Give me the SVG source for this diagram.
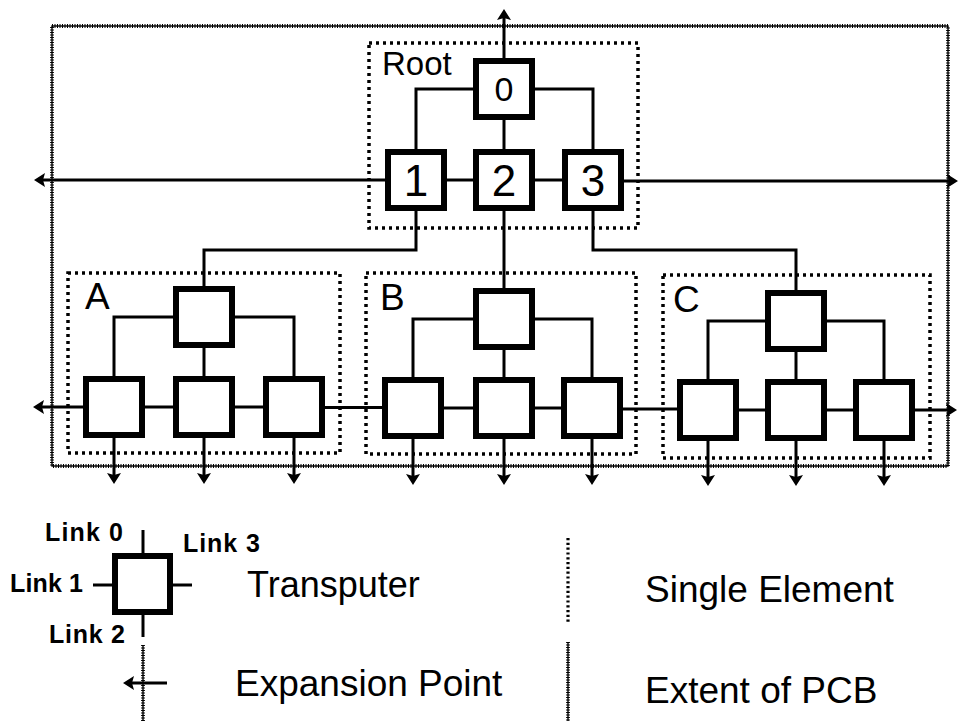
<svg xmlns="http://www.w3.org/2000/svg" width="960" height="721" viewBox="0 0 960 721">
<style>
.t{fill:#fff;stroke:#000;stroke-width:6}
.c{fill:none;stroke:#000;stroke-width:3}
.el{fill:none;stroke:#000;stroke-width:3.5;stroke-dasharray:3 4}
.pcb{fill:none;stroke:#000;stroke-width:1.4}
.pcbz{fill:none;stroke:#000;stroke-width:3.8;stroke-dasharray:1 1.5}
.lbl{font-family:"Liberation Sans",Arial,sans-serif;fill:#000}
.num{font-family:"Liberation Sans",Arial,sans-serif;fill:#000;text-anchor:middle}
.lk{font-family:"Liberation Sans",Arial,sans-serif;font-weight:bold;font-size:25px;fill:#000}
</style>
<defs>
<marker id="ah" viewBox="0 0 11 14" refX="5" refY="7" markerWidth="11" markerHeight="14" markerUnits="userSpaceOnUse" orient="auto">
<path d="M0,0 L11,7 L0,14 L2,7 Z" fill="#000"/>
</marker>
</defs>
<rect width="960" height="721" fill="#fff"/>

<g id="pcb">
<rect class="pcb" x="52" y="26" width="896" height="440"/>
<rect class="pcbz" x="52" y="26" width="896" height="440"/>
</g>

<g id="element-root">
<rect class="el" x="369" y="43" width="269" height="185"/>
<text class="lbl" x="382" y="75" font-size="33">Root</text>
</g>
<g id="element-A">
<rect class="el" x="68" y="273" width="272" height="180"/>
<text class="lbl" x="85" y="309" font-size="37">A</text>
</g>
<g id="element-B">
<rect class="el" x="366" y="273" width="270" height="181"/>
<text class="lbl" x="380" y="310" font-size="37">B</text>
</g>
<g id="element-C">
<rect class="el" x="663" y="275" width="267" height="183"/>
<text class="lbl" x="673" y="312" font-size="37">C</text>
</g>

<g id="connectors">
<polyline class="c" points="477,89 416,89 416,152"/>
<polyline class="c" points="532,89 593,89 593,152"/>
<line class="c" x1="504" y1="117" x2="504" y2="152"/>
<line class="c" x1="444" y1="180" x2="476" y2="180"/>
<line class="c" x1="532" y1="180" x2="565" y2="180"/>
<line class="c" x1="504" y1="58" x2="504" y2="15" marker-end="url(#ah)"/>
<line class="c" x1="388" y1="180" x2="40" y2="180" marker-end="url(#ah)"/>
<line class="c" x1="621" y1="181" x2="952" y2="181" marker-end="url(#ah)"/>
<polyline class="c" points="416,208 416,250 204,250 204,289"/>
<line class="c" x1="504" y1="208" x2="504" y2="291"/>
<polyline class="c" points="593,208 593,250 796,250 796,293"/>
<polyline class="c" points="176,317 114,317 114,379"/>
<polyline class="c" points="232,317 294,317 294,379"/>
<line class="c" x1="204" y1="345" x2="204" y2="379"/>
<line class="c" x1="86" y1="407" x2="39" y2="407" marker-end="url(#ah)"/>
<line class="c" x1="142" y1="407" x2="176" y2="407"/>
<line class="c" x1="232" y1="407" x2="266" y2="407"/>
<line class="c" x1="322" y1="407.5" x2="385" y2="407.5"/>
<line class="c" x1="114" y1="435" x2="114" y2="478" marker-end="url(#ah)"/>
<line class="c" x1="204" y1="435" x2="204" y2="478" marker-end="url(#ah)"/>
<line class="c" x1="294" y1="435" x2="294" y2="478" marker-end="url(#ah)"/>
<polyline class="c" points="476,319 413,319 413,380"/>
<polyline class="c" points="532,319 592,319 592,380"/>
<line class="c" x1="504" y1="347" x2="504" y2="380"/>
<line class="c" x1="441" y1="408" x2="476" y2="408"/>
<line class="c" x1="532" y1="408" x2="564" y2="408"/>
<line class="c" x1="620" y1="409" x2="680" y2="409"/>
<line class="c" x1="413" y1="436" x2="413" y2="479" marker-end="url(#ah)"/>
<line class="c" x1="504" y1="436" x2="504" y2="479" marker-end="url(#ah)"/>
<line class="c" x1="592" y1="436" x2="592" y2="479" marker-end="url(#ah)"/>
<polyline class="c" points="768,321 708,321 708,382"/>
<polyline class="c" points="824,321 884,321 884,382"/>
<line class="c" x1="796" y1="349" x2="796" y2="382"/>
<line class="c" x1="736" y1="410" x2="768" y2="410"/>
<line class="c" x1="824" y1="410" x2="856" y2="410"/>
<line class="c" x1="912" y1="410" x2="951" y2="410" marker-end="url(#ah)"/>
<line class="c" x1="708" y1="438" x2="708" y2="480" marker-end="url(#ah)"/>
<line class="c" x1="796" y1="438" x2="796" y2="480" marker-end="url(#ah)"/>
<line class="c" x1="884" y1="438" x2="884" y2="480" marker-end="url(#ah)"/>
</g>

<g id="root-0"><rect class="t" x="476" y="61" width="56" height="56"/><text class="num" x="504" y="101" font-size="34">0</text></g>
<g id="root-1"><rect class="t" x="388" y="152" width="56" height="56"/><text class="num" x="416" y="196" font-size="44">1</text></g>
<g id="root-2"><rect class="t" x="476" y="152" width="56" height="56"/><text class="num" x="504" y="196" font-size="44">2</text></g>
<g id="root-3"><rect class="t" x="565" y="152" width="56" height="56"/><text class="num" x="593" y="196" font-size="44">3</text></g>

<g id="A-0"><rect class="t" x="176" y="289" width="56" height="56"/></g>
<g id="A-1"><rect class="t" x="86" y="379" width="56" height="56"/></g>
<g id="A-2"><rect class="t" x="176" y="379" width="56" height="56"/></g>
<g id="A-3"><rect class="t" x="266" y="379" width="56" height="56"/></g>

<g id="B-0"><rect class="t" x="476" y="291" width="56" height="56"/></g>
<g id="B-1"><rect class="t" x="385" y="380" width="56" height="56"/></g>
<g id="B-2"><rect class="t" x="476" y="380" width="56" height="56"/></g>
<g id="B-3"><rect class="t" x="564" y="380" width="56" height="56"/></g>

<g id="C-0"><rect class="t" x="768" y="293" width="56" height="56"/></g>
<g id="C-1"><rect class="t" x="680" y="382" width="56" height="56"/></g>
<g id="C-2"><rect class="t" x="768" y="382" width="56" height="56"/></g>
<g id="C-3"><rect class="t" x="856" y="382" width="56" height="56"/></g>

<g id="legend-transputer">
<line class="c" x1="143" y1="530" x2="143" y2="556"/>
<line class="c" x1="143" y1="612" x2="143" y2="637"/>
<line class="c" x1="93" y1="585" x2="115" y2="585"/>
<line class="c" x1="170" y1="585" x2="192" y2="585"/>
<rect class="t" x="115" y="556" width="55" height="56"/>
<text class="lk" x="45" y="541" textLength="78" lengthAdjust="spacing">Link 0</text>
<text class="lk" x="183" y="552" textLength="77" lengthAdjust="spacing">Link 3</text>
<text class="lk" x="10" y="592" textLength="73" lengthAdjust="spacing">Link 1</text>
<text class="lk" x="49" y="643" textLength="76" lengthAdjust="spacing">Link 2</text>
<text class="lbl" x="247" y="597" font-size="36">Transputer</text>
</g>

<g id="legend-expansion">
<line class="pcb" x1="143" y1="645" x2="143" y2="721"/>
<line class="pcbz" x1="143" y1="645" x2="143" y2="721"/>
<line class="c" x1="167" y1="683" x2="129" y2="683" marker-end="url(#ah)"/>
<text class="lbl" x="235" y="696" font-size="37">Expansion Point</text>
</g>

<g id="legend-element">
<line x1="568" y1="538" x2="568" y2="624" stroke="#000" stroke-width="3.2" stroke-dasharray="2.2 2.6"/>
<text class="lbl" x="645" y="602" font-size="37">Single Element</text>
</g>

<g id="legend-pcb">
<line class="pcb" x1="568" y1="642" x2="568" y2="721"/>
<line class="pcbz" x1="568" y1="642" x2="568" y2="721"/>
<text class="lbl" x="645" y="703" font-size="37">Extent of PCB</text>
</g>
</svg>
